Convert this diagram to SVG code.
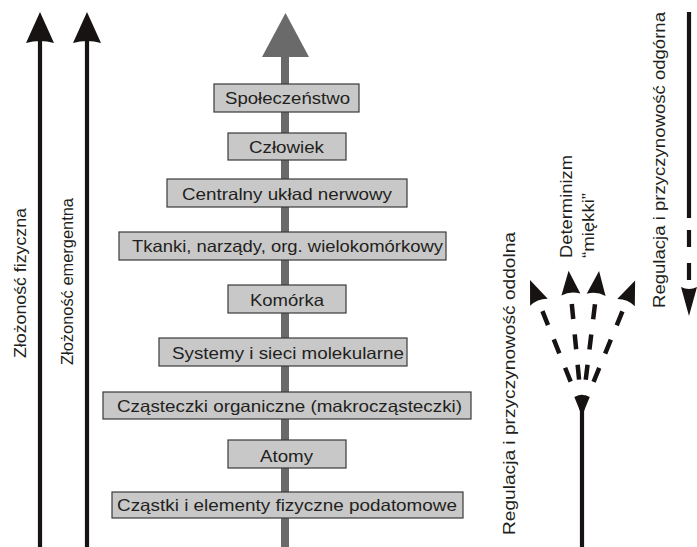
<svg xmlns="http://www.w3.org/2000/svg" width="697" height="547" viewBox="0 0 697 547">
<style>
.box{fill:#c8c8c8;stroke:#3a3a3a;stroke-width:1.2}
.t{font-family:"Liberation Sans",Arial,sans-serif;font-size:16.5px;fill:#231f20;text-anchor:middle}
.blk{stroke:#161312;stroke-width:4.2;fill:none}
.dash{stroke:#161312;stroke-width:4.5;fill:none;stroke-dasharray:15 15.5}
.hd{fill:#161312}
</style>
<defs>
<path id="fh" d="M0,-140 L9.5,-116 Q0,-120 -9.5,-116 Z"/>
</defs>
<rect width="697" height="547" fill="#fff"/>
<g id="connectors">
  <g id="arrow-fizyczna">
    <line class="blk" x1="40" y1="547" x2="40" y2="38"/>
    <path class="hd" d="M40,12 L54,43 Q40,39 26,43 Z"/>
  </g>
  <g id="arrow-emergentna">
    <line class="blk" x1="87" y1="547" x2="87" y2="38"/>
    <path class="hd" d="M87,12 L101,43 Q87,39 73,43 Z"/>
  </g>
  <g id="arrow-central">
    <rect x="281" y="50" width="8" height="497" fill="#6a6a6a"/>
    <path d="M285.5,13 L309,57 L262,57 Z" fill="#6a6a6a"/>
  </g>
  <g id="arrow-oddolna">
    <line class="blk" x1="582" y1="547" x2="582" y2="409"/>
    <g transform="translate(582,410) rotate(-21.8)">
      <line class="dash" x1="0" y1="0" x2="0" y2="-107"/>
      <use href="#fh" class="hd"/>
    </g>
    <g transform="translate(582,410) rotate(-5.5)">
      <line class="dash" x1="0" y1="0" x2="0" y2="-107"/>
      <use href="#fh" class="hd"/>
    </g>
    <g transform="translate(582,410) rotate(7)">
      <line class="dash" x1="0" y1="0" x2="0" y2="-107"/>
      <use href="#fh" class="hd"/>
    </g>
    <g transform="translate(582,410) rotate(22.3)">
      <line class="dash" x1="0" y1="0" x2="0" y2="-107"/>
      <use href="#fh" class="hd"/>
    </g>
  </g>
  <g id="arrow-odgorna">
    <line class="blk" x1="689" y1="12" x2="689" y2="218"/>
    <line class="blk" x1="689" y1="230" x2="689" y2="247"/>
    <line class="blk" x1="689" y1="263" x2="689" y2="280"/>
    <path class="hd" d="M689,316 L697,287 Q689,291 681,287 Z"/>
  </g>
</g>
<g id="n1"><rect class="box" x="214" y="84" width="145" height="28"/><text class="t" x="287.5" y="103.5" textLength="125" lengthAdjust="spacingAndGlyphs">Społeczeństwo</text></g>
<g id="n2"><rect class="box" x="228" y="133" width="118" height="27"/><text class="t" x="286.5" y="152.5" textLength="75" lengthAdjust="spacingAndGlyphs">Człowiek</text></g>
<g id="n3"><rect class="box" x="167" y="179" width="240" height="28"/><text class="t" x="287" y="199.5" textLength="210" lengthAdjust="spacingAndGlyphs">Centralny układ nerwowy</text></g>
<g id="n4"><rect class="box" x="119" y="232" width="327" height="28"/><text class="t" x="287.5" y="252" textLength="311" lengthAdjust="spacingAndGlyphs">Tkanki, narządy, org. wielokomórkowy</text></g>
<g id="n5"><rect class="box" x="228" y="285" width="118" height="28"/><text class="t" x="287" y="306" textLength="74" lengthAdjust="spacingAndGlyphs">Komórka</text></g>
<g id="n6"><rect class="box" x="159" y="338" width="248" height="28"/><text class="t" x="288" y="358.5" textLength="232" lengthAdjust="spacingAndGlyphs">Systemy i sieci molekularne</text></g>
<g id="n7"><rect class="box" x="103" y="392" width="368" height="27"/><text class="t" x="289.5" y="411.5" textLength="345" lengthAdjust="spacingAndGlyphs">Cząsteczki organiczne (makrocząsteczki)</text></g>
<g id="n8"><rect class="box" x="228" y="440" width="118" height="28"/><text class="t" x="286.5" y="461.5" textLength="53" lengthAdjust="spacingAndGlyphs">Atomy</text></g>
<g id="n9"><rect class="box" x="112" y="492" width="351" height="26"/><text class="t" x="287" y="510.5" textLength="340" lengthAdjust="spacingAndGlyphs">Cząstki i elementy fizyczne podatomowe</text></g>
<g id="labels">
  <text class="t" transform="translate(25.5,283) rotate(-90)" textLength="150" lengthAdjust="spacingAndGlyphs">Złożoność fizyczna</text>
  <text class="t" transform="translate(73,281.5) rotate(-90)" textLength="167" lengthAdjust="spacingAndGlyphs">Złożoność emergentna</text>
  <text class="t" transform="translate(515,383.5) rotate(-90)" textLength="303" lengthAdjust="spacingAndGlyphs">Regulacja i przyczynowość oddolna</text>
  <text class="t" transform="translate(665,160) rotate(-90)" textLength="296" lengthAdjust="spacingAndGlyphs">Regulacja i przyczynowość odgórna</text>
  <text class="t" style="text-anchor:start" transform="translate(572,258) rotate(-90)" textLength="103" lengthAdjust="spacingAndGlyphs">Determinizm</text>
  <text class="t" style="text-anchor:start" transform="translate(594,258) rotate(-90)" textLength="65" lengthAdjust="spacingAndGlyphs">“miękki”</text>
</g>
</svg>
